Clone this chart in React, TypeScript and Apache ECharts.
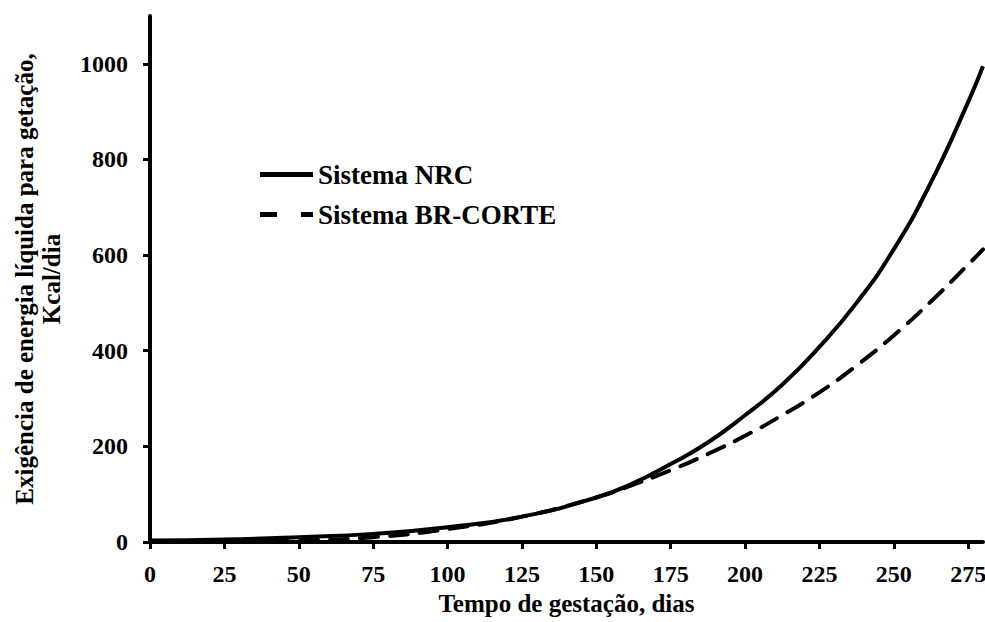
import React, { useEffect, useRef } from "react";
import * as echarts from "echarts";

const days = [0, 25, 50, 75, 100, 125, 150, 162.5, 175, 187.5, 200, 212.5, 225, 237.5, 250, 262.5, 275, 280];
const nrcValues = [3, 5, 10, 17, 31, 53, 93, 123, 163, 208, 265, 329, 408, 500, 612, 752, 920, 995];
const brDays = [0, 25, 50, 75, 100, 125, 150, 162.5, 175, 187.5, 200, 212.5, 225, 237.5, 250, 262.5, 275, 280];
const brValues = [0, 0.5, 3, 10, 27, 53, 93, 120, 150, 184, 222, 265, 313, 369, 432, 503, 580, 612];
const xTicks = [0, 25, 50, 75, 100, 125, 150, 175, 200, 225, 250, 275];
const yTicks = [0, 200, 400, 600, 800, 1000];
const seriesNames = ["Sistema NRC", "Sistema BR-CORTE"];
const xName = "Tempo de gestação, dias";
const yName = "Exigência de energia líquida para getação,\nKcal/dia";

const FONT = "Liberation Serif, Times New Roman, Times, serif";

export default function App() {
  const ref = useRef<HTMLDivElement>(null);
  useEffect(() => {
    if (!ref.current) return;
    const chart = echarts.init(ref.current, undefined, { renderer: "svg" });
    const base = { fontFamily: FONT, fontWeight: "bold" as const, color: "#000" };
    chart.setOption({
      animation: false,
      backgroundColor: "#fff",
      textStyle: { fontFamily: FONT },
      grid: { left: 150, right: 2, top: 16, bottom: 80, containLabel: false, outerBoundsMode: "none" },
      legend: {
        orient: "vertical",
        left: 255,
        top: 156,
        itemWidth: 53,
        itemHeight: 5,
        itemGap: 13,
        data: [
          { name: seriesNames[0], icon: "path://M0,0H53V5H0Z" },
          { name: seriesNames[1], icon: "path://M0,0H17V5H0Z M41,0H53V5H41Z" },
        ],
        textStyle: { ...base, fontSize: 27 },
      },
      xAxis: {
        type: "value",
        min: 0,
        max: 280,
        interval: 25,
        name: xName,
        nameLocation: "middle",
        nameGap: 49,
        nameTextStyle: { ...base, fontSize: 25 },
        axisLine: { show: true, lineStyle: { color: "#000", width: 4 } },
        axisTick: { show: true, length: 7, lineStyle: { color: "#000", width: 3 }, customValues: xTicks },
        axisLabel: { ...base, fontSize: 24, margin: 20, customValues: xTicks, formatter: (v: number) => String(v) },
        splitLine: { show: false },
      },
      yAxis: {
        type: "value",
        min: 0,
        max: 1100,
        interval: 100,
        name: yName,
        nameLocation: "middle",
        nameGap: 85,
        nameTextStyle: { ...base, fontSize: 25, lineHeight: 27 },
        axisLine: { show: true, lineStyle: { color: "#000", width: 4 } },
        axisTick: { show: true, length: 7, lineStyle: { color: "#000", width: 3 }, customValues: yTicks },
        axisLabel: { ...base, fontSize: 24, margin: 22, customValues: yTicks, formatter: (v: number) => String(v) },
        splitLine: { show: false },
      },
      series: [
        {
          name: seriesNames[0],
          type: "line",
          smooth: true,
          symbol: "none",
          data: days.map((d, i) => [d, nrcValues[i]]),
          lineStyle: { color: "#000", width: 4 },
          itemStyle: { color: "#000" },
          z: 3,
        },
        {
          name: seriesNames[1],
          type: "line",
          smooth: true,
          symbol: "none",
          data: brDays.map((d, i) => [d, brValues[i]]),
          lineStyle: { color: "#000", width: 4, type: [18, 12], cap: "round" },
          itemStyle: { color: "#000" },
          z: 2,
        },
      ],
    });
    return () => chart.dispose();
  }, []);
  return <div ref={ref} style={{ width: 985, height: 622, position: "absolute", left: 0, top: 0 }} />;
}
